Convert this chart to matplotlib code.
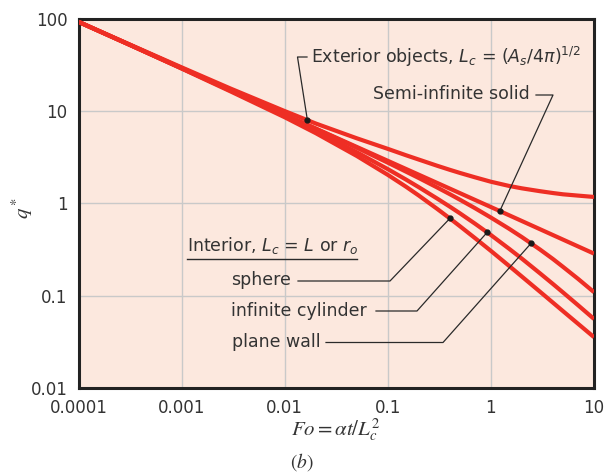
import numpy as np
import matplotlib.pyplot as plt

plt.rcParams['font.family'] = 'DejaVu Sans'
plt.rcParams['mathtext.fontset'] = 'stix'

# values (Fo, q*)
fo = [1e-4, 3e-4, 1e-3, 3e-3, 0.01, 0.02, 0.05, 0.1, 0.15, 0.2, 0.3,
      0.4, 0.5, 0.7, 1, 1.5, 2, 3, 4, 5, 7, 10]
q_ext = [92, 53.5, 29.6, 17.4, 9.95, 7.3, 5.05, 3.88, 3.31, 2.97, 2.55,
         2.3, 2.13, 1.91, 1.71, 1.54, 1.45, 1.35, 1.29, 1.25, 1.21, 1.17]
q_wall = [92, 53.1, 29.1, 16.8, 9.1, 6.42, 3.99, 2.75, 2.2, 1.875, 1.485,
          1.253, 1.093, 0.885, 0.70, 0.53, 0.43, 0.315, 0.249, 0.205, 0.152, 0.109]
q_cyl = [92, 53.1, 28.9, 16.5, 8.83, 6.05, 3.57, 2.34, 1.806, 1.491, 1.127,
         0.918, 0.779, 0.602, 0.453, 0.322, 0.251, 0.174, 0.1336, 0.1084, 0.0788, 0.0559]
q_sph = [92, 53.1, 28.7, 16.2, 8.53, 5.74, 3.25, 2.03, 1.511, 1.211, 0.872,
         0.685, 0.565, 0.420, 0.305, 0.210, 0.1606, 0.110, 0.0839, 0.068, 0.0496, 0.0355]

fo_semi = [1e-4, 1e-3, 0.01, 0.1, 1, 10]
q_semi = [92, 29, 9.1, 2.88, 0.91, 0.285]

xticks = [1e-4, 1e-3, 1e-2, 1e-1, 1, 10]
xlabels = ['0.0001', '0.001', '0.01', '0.1', '1', '10']
yticks = [0.01, 0.1, 1, 10, 100]
ylabels = ['0.01', '0.1', '1', '10', '100']

W, H = 604, 474
red = '#ee2e24'
ink = '#333333'

fig = plt.figure(figsize=(W / 100, H / 100), dpi=100)
ax = fig.add_axes([78.5 / W, 1 - 388 / H, (594 - 78.5) / W, (388 - 18.5) / H])
ax.set_facecolor('#fce8de')
ax.set_xscale('log')
ax.set_yscale('log')
ax.set_xlim(1e-4, 10)
ax.set_ylim(0.01, 100)
ax.set_xticks(xticks)
ax.set_xticklabels(xlabels)
ax.set_yticks(yticks)
ax.set_yticklabels(ylabels)
ax.minorticks_off()
ax.tick_params(length=0, labelsize=12, colors=ink, pad=8)
ax.grid(True, color='#c9c9c9', lw=1)
ax.set_axisbelow(True)
for s in ax.spines.values():
    s.set_linewidth(2.2)
    s.set_color('#222222')

curves = [(fo, q_ext), (fo_semi, q_semi), (fo, q_wall), (fo, q_cyl), (fo, q_sph)]
for x, q in curves:
    ax.plot(x, q, color=red, lw=3, solid_capstyle='butt', solid_joinstyle='round', zorder=3)


def on_curve(xs, q, x):
    return x, 10 ** np.interp(np.log10(x), np.log10(xs), np.log10(q))


def px(x, y):
    # figure pixel (from top-left) -> data coordinates
    return ax.transData.inverted().transform((x, H - y))


def leader(points, dot):
    pts = [px(*p) for p in points] + [dot]
    xs, ys = zip(*pts)
    ax.plot(xs, ys, color='#2a2a2a', lw=0.9, zorder=4, clip_on=False)
    ax.plot(*dot, 'o', color='#1a1a1a', ms=3.5, zorder=5)


leader([(307, 57), (297.5, 57)], on_curve(fo, q_ext, 0.0166))
leader([(536, 95), (553, 95)], on_curve(fo_semi, q_semi, 1.22))
leader([(298, 281), (390, 281)], on_curve(fo, q_sph, 0.40))
leader([(376, 311), (417, 311)], on_curve(fo, q_cyl, 0.92))
leader([(326, 342.5), (443, 342.5)], on_curve(fo, q_wall, 2.45))

tkw = dict(fontsize=12.5, color=ink, va='center', ha='left', zorder=6,
           math_fontfamily='dejavusans')
ax.text(*px(311, 57), r'Exterior objects, $L_c$ = $(A_s/4\pi)^{1/2}$', **tkw)
ax.text(*px(373, 94), 'Semi-infinite solid', **tkw)
ax.text(*px(187, 246), r'Interior, $L_c$ = $L$ or $r_o$', **tkw)
ax.plot(*zip(px(187, 259), px(357, 259)), color='#2a2a2a', lw=1, zorder=4)
ax.text(*px(231, 280), 'sphere', **tkw)
ax.text(*px(231, 311), 'infinite cylinder', **tkw)
ax.text(*px(232, 342), 'plane wall', **tkw)

fig.text(22 / W, 1 - 208 / H, r'$q^*$', rotation=90, fontsize=15, color=ink,
         ha='center', va='center')
fig.text(336 / W, 1 - 430 / H, r'$Fo = \alpha t/L_c^2$', fontsize=15, color=ink,
         ha='center', va='center')
fig.text(301.5 / W, 1 - 462 / H, r'$(b)$', fontsize=14, color=ink,
         ha='center', va='center')

fig.savefig('out.png', dpi=100)
